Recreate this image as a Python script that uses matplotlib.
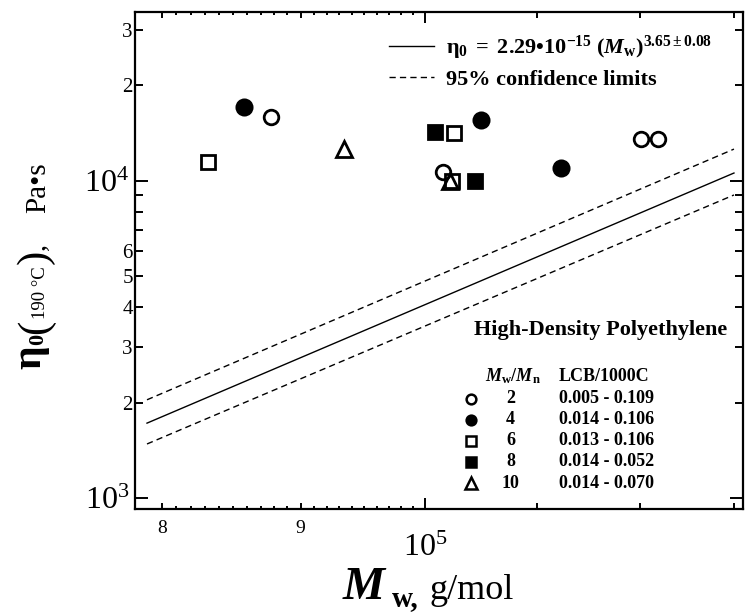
import numpy as np
import matplotlib
matplotlib.use("Agg")
import matplotlib.pyplot as plt
from matplotlib.ticker import FixedLocator, FixedFormatter, NullFormatter

plt.rcParams['font.family'] = ['Liberation Serif', 'DejaVu Serif']
plt.rcParams['mathtext.fontset'] = 'custom'
plt.rcParams['mathtext.rm'] = 'Liberation Serif'
plt.rcParams['mathtext.it'] = 'Liberation Serif:italic'
plt.rcParams['mathtext.bf'] = 'Liberation Serif:bold'
plt.rcParams['mathtext.bfit'] = 'Liberation Serif:bold:italic'

# data: Mw (g/mol), eta0 (Pa s), grouped by Mw/Mn
mw_2 = [87750, 101590, 120130, 121930]
eta_2 = [15950, 10650, 13570, 13570]
mw_4 = [85800, 104860, 112250]
eta_4 = [17080, 15580, 10970]
mw_6 = [83170, 102540, 102320]
eta_6 = [11500, 14140, 10000]
mw_8 = [100850, 104360]
eta_8 = [14240, 10000]
mw_10 = [93390, 102170]
eta_10 = [12640, 10000]

# fit line and 95% confidence limits (end points)
fit_mw = [79000, 130000]
fit_eta = [1722, 10590]
upper_eta = [2040, 12600]
lower_eta = [1480, 9030]

ratios = ['2', '4', '6', '8', '10']
lcb = ['0.005 - 0.109', '0.014 - 0.106', '0.013 - 0.106',
       '0.014 - 0.052', '0.014 - 0.070']

W, H = 746, 616
fig = plt.figure(figsize=(W / 100, H / 100), dpi=100)
ax = fig.add_axes([135 / W, 1 - 509 / H, 608 / W, 497 / H])
ax.set_xscale('log')
ax.set_yscale('log')
ax.set_xlim(78200, 131000)
ax.set_ylim(923, 34100)

l1, = ax.plot(fit_mw, fit_eta, color='black', lw=1.0)
l2, = ax.plot(fit_mw, upper_eta, color='black', lw=1.0, ls=(0, (4.5, 3)))
ax.plot(fit_mw, lower_eta, color='black', lw=1.0, ls=(0, (4.5, 3)))

mk = dict(ls='none', color='black', mew=2.0)
ax.plot(mw_2, eta_2, marker='o', ms=10.5, mfc='none', **mk)
ax.plot(mw_4, eta_4, marker='o', ms=11, mfc='black', **mk)
ax.plot(mw_6, eta_6, marker='s', ms=10, mfc='none', **mk)
ax.plot(mw_8, eta_8, marker='s', ms=10, mfc='black', **mk)
ax.plot(mw_10, eta_10, marker='^', ms=12, mfc='none', **mk)

for s in ax.spines.values():
    s.set_linewidth(1.6)

# x ticks
x_major = [80000, 90000, 100000, 110000, 120000, 130000]
x_minor = [v for v in range(81000, 100000, 1000) if v != 90000]
ax.xaxis.set_major_locator(FixedLocator(x_major))
ax.xaxis.set_major_formatter(FixedFormatter(['8', '9', '', '', '', '']))
ax.xaxis.set_minor_locator(FixedLocator(x_minor))
ax.xaxis.set_minor_formatter(NullFormatter())

# y ticks
y_major = [1000, 10000]
y_minor = [2000, 3000, 4000, 5000, 6000, 7000, 8000, 9000, 20000, 30000]
ax.yaxis.set_major_locator(FixedLocator(y_major))
ax.yaxis.set_major_formatter(FixedFormatter([r'$\mathregular{10^{3}}$', r'$\mathregular{10^{4}}$']))
ax.yaxis.set_minor_locator(FixedLocator(y_minor))
ax.yaxis.set_minor_formatter(FixedFormatter(['2', '3', '4', '5', '6', '', '', '', '2', '3']))

ax.tick_params(which='both', direction='in', top=True, right=True, width=1.4)
ax.tick_params(axis='x', which='major', length=4.5, pad=8, labelsize=14)
ax.tick_params(axis='x', which='minor', length=2.2)
ax.tick_params(axis='y', which='major', length=9.5, pad=4, labelsize=23)
ax.tick_params(axis='y', which='minor', length=5.5, pad=1.5, labelsize=15)

# longer decade tick at 1e5
t5 = ax.xaxis.get_major_ticks()[2]
t5.tick1line.set_markersize(8)
t5.tick2line.set_markersize(8)

ax.text(1e5, -0.050, r'$\mathregular{10^{5}}$', transform=ax.get_xaxis_transform(),
        ha='center', va='top', fontsize=23)

# legend for the fit
bold16 = dict(family='Liberation Serif', weight='bold', size=16)
leg = ax.legend([l1, l2],
                [r'$\mathbf{\eta_0\ =\ 2.29{•}10^{-15}\ (}\mathbfit{M}_\mathbf{w}\mathbf{)^{3.65\pm0.08}}$',
                 '95% confidence limits'],
                loc='upper left', bbox_to_anchor=(0.418, 0.957), frameon=False,
                prop=bold16, handlelength=2.0, handletextpad=0.55,
                labelspacing=0.35, borderpad=0, borderaxespad=0)

# sample table
ax.text(0.974, 0.360, 'High-Density Polyethylene', transform=ax.transAxes,
        ha='right', va='center', fontsize=16, fontweight='bold')
ax.text(0.622, 0.2676, r'$\mathbfit{M}_\mathbf{w}\mathbf{/}\mathbfit{M}_\mathbf{n}$',
        transform=ax.transAxes, ha='center', va='center', fontsize=13)
ax.text(0.697, 0.2676, 'LCB/1000C', transform=ax.transAxes,
        ha='left', va='center', fontsize=13, fontweight='bold')
table_marks = [('o', 'none'), ('o', 'black'), ('s', 'none'), ('s', 'black'), ('^', 'none')]
row0, drow = 0.2219, 0.0424
for i, (m, fc) in enumerate(table_marks):
    yy = row0 - i * drow
    ax.plot([0.5526], [yy], marker=m, ms=7 if m != '^' else 8, mfc=fc, mec='black',
            mew=1.8, transform=ax.transAxes, clip_on=False)
    ax.text(0.618, yy, ratios[i], transform=ax.transAxes, ha='center', va='center',
            fontsize=13, fontweight='bold')
    ax.text(0.697, yy, lcb[i], transform=ax.transAxes, ha='left', va='center',
            fontsize=13, fontweight='bold')


def fig_text(px, py, s, **kw):
    return fig.text(px / W, 1 - py / H, s, **kw)


renderer = fig.canvas.get_renderer()

# y label pieces, rotated, chained upward (baseline x in pixels)
rot = dict(rotation=90, rotation_mode='anchor', ha='left', va='baseline')
ylab_parts = [('η', 40, 0, dict(fontsize=30, fontweight='bold')),
              ('0', 43, 0, dict(fontsize=16, fontweight='bold')),
              ('(', 46, 0, dict(fontsize=31)),
              ('190 °C', 45, 1, dict(fontsize=13.5)),
              (')', 46, 2, dict(fontsize=31)),
              (',', 45, 0, dict(fontsize=20)),
              ('Pa•s', 45, 30, dict(fontsize=21))]
ypos = 369
for s, xb, gap, kw in ylab_parts:
    ypos -= gap
    t = fig_text(xb, ypos, s, **rot, **kw)
    ypos -= t.get_window_extent(renderer).height

# x label pieces (start x, baseline y in pixels)
hb = dict(ha='left', va='baseline')
fig_text(343, 599, 'M', fontsize=34, fontweight='bold', fontstyle='italic', **hb)
fig_text(392, 606, 'w,', fontsize=21, fontweight='bold', **hb)
fig_text(429, 599, 'g/mol', fontsize=26, **hb)

fig.savefig('out.png', dpi=100)
